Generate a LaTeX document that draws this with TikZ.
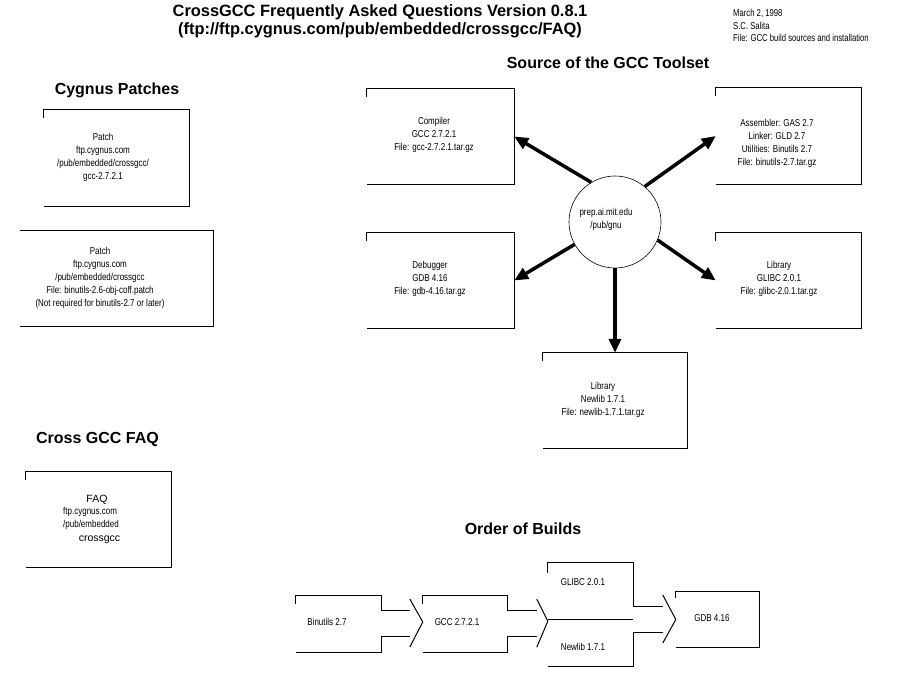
\documentclass[tikz,border=0pt]{standalone}
\usepackage{fontspec}
\setmainfont{Liberation Sans}
\newfontfamily\narrowf{Liberation Sans}[FakeStretch=0.8]
\newfontfamily\narrowi{Liberation Sans}[FakeStretch=0.77]
\usetikzlibrary{arrows.meta,fit,calc}
\begin{document}
\begin{tikzpicture}[x=1pt,y=-1pt,
  head/.style={font=\fontsize{16}{19}\selectfont\bfseries, anchor=base, inner sep=0pt},
  ttl/.style={font=\fontsize{16.4}{19}\selectfont\bfseries, anchor=base, inner sep=0pt},
  txt/.style={font=\narrowf\fontsize{10}{13}\selectfont, align=center, inner sep=0pt},
  reg/.style={font=\fontsize{10.5}{12}\selectfont, inner sep=0pt, anchor=base},
  area/.style={inner sep=0pt, draw=none},
  boxline/.style={line width=1pt},
  bigarrow/.style={line width=3.5pt, -{Triangle[length=14pt,width=12pt]}},
]
\fill[white] (0,0) rectangle (923,676);
\useasboundingbox (0,0) rectangle (923,676);

% titles
\node[ttl] (t1) at (380,17) {CrossGCC Frequently Asked Questions Version 0.8.1};
\node[ttl] (t2) at (380,35) {(ftp://ftp.cygnus.com/pub/embedded/crossgcc/FAQ)};
\node[txt, font=\narrowi\fontsize{10}{12.4}\selectfont, align=left, anchor=north west] (info) at (733,9.5) {March 2, 1998\\S.C. Salita\\File: GCC build sources and installation};

% headings
\node[head] (hcp) at (117,94.5) {Cygnus Patches};
\node[head] (hsrc) at (608,69) {Source of the GCC Toolset};
\node[head] (hfaq) at (97.5,443) {Cross GCC FAQ};
\node[head] (hord) at (523,534) {Order of Builds};

% box areas
\node[area, fit={(44,110) (189,206)}] (p1) {};
\node[area, fit={(20,231) (213,326)}] (p2) {};
\node[area, fit={(26,472) (171,567)}] (faq) {};
\node[area, fit={(367,89) (514,184)}] (comp) {};
\node[area, fit={(716,88) (861,184)}] (asm) {};
\node[area, fit={(367,233) (514,328)}] (dbg) {};
\node[area, fit={(716,233) (861,328)}] (glibc) {};
\node[area, fit={(543,353) (687,448)}] (newlib) {};

\foreach \n in {p1,faq,comp,asm,dbg,glibc,newlib}
  \draw[boxline] ([yshift=-8pt]\n.north west) -- (\n.north west) -- (\n.north east) -- (\n.south east) -- (\n.south west);
\draw[boxline] (p2.north west) -- (p2.north east) -- (p2.south east) -- (p2.south west);

% box texts
\node[txt] (p1t) at (103,157) {Patch\\ftp.cygnus.com\\/pub/embedded/crossgcc/\\gcc-2.7.2.1};
\node[txt] (p2t) at (100,278) {Patch\\ftp.cygnus.com\\/pub/embedded/crossgcc\\File: binutils-2.6-obj-coff.patch\\(Not required for binutils-2.7 or later)};
\node[reg] (faq1) at (97,502) {FAQ};
\node[txt, anchor=base west] (faq2) at (63,514) {ftp.cygnus.com};
\node[txt, anchor=base west] (faq3) at (63,527) {/pub/embedded};
\node[reg] (faq4) at (99.5,541) {crossgcc};

\node[txt] (compt) at (434,135) {Compiler\\GCC 2.7.2.1\\File: gcc-2.7.2.1.tar.gz};
\node[txt] (asmt) at (777,143.5) {Assembler: GAS 2.7\\Linker: GLD 2.7\\Utilities: Binutils 2.7\\File: binutils-2.7.tar.gz};
\node[txt] (dbgt) at (430,278.5) {Debugger\\GDB 4.16\\File: gdb-4.16.tar.gz};
\node[txt] (glibct) at (779,279) {Library\\GLIBC 2.0.1\\File: glibc-2.0.1.tar.gz};
\node[txt] (newlibt) at (603,400) {Library\\Newlib 1.7.1\\File: newlib-1.7.1.tar.gz};

% source circle
\node[circle, draw, line width=0.6pt, minimum size=92pt, inner sep=0pt] (circ) at (615,222) {};
\node[txt] (circt) at (606,219) {prep.ai.mit.edu\\/pub/gnu};

\draw[bigarrow] (circ.121) -- (comp.east);
\draw[bigarrow] (circ.50) -- (asm.west);
\draw[bigarrow] (circ.209) -- (dbg.east);
\draw[bigarrow] (circ.-23) -- (glibc.west);
\draw[bigarrow] (circ.south) -- (newlib.north);

% order of builds
\node[area, fit={(296,596) (381,652)}] (bin) {};
\node[area, fit={(423,596) (507,652)}] (gccb) {};
\node[area, fit={(548,563) (633,619)}] (glb) {};
\node[area, fit={(548,619) (633,666)}] (nlb) {};
\node[area, fit={(676,592) (759,647)}] (gdb) {};

\draw[boxline] ([yshift=-8pt]bin.north west) -- (bin.north west) -- (bin.north east) -- ++(0,15) -- ++(29,0);
\draw[boxline] (bin.south west) -- (bin.south east) -- ++(0,-16) -- ++(29,0);
\draw[boxline] ($(gccb.west)+(-13,-25)$) -- ($(gccb.west)+(0,-2)$) -- ($(gccb.west)+(-13,23)$);

\draw[boxline] ([yshift=-8pt]gccb.north west) -- (gccb.north west) -- (gccb.north east) -- ++(0,15) -- ++(30,0);
\draw[boxline] (gccb.south west) -- (gccb.south east) -- ++(0,-16) -- ++(30,0);
\draw[boxline] ($(glb.south west)+(-11,-20)$) -- ($(glb.south west)+(0,2)$) -- ($(glb.south west)+(-11,28)$);

\draw[boxline] ([yshift=-10pt]glb.north west) -- (glb.north west) -- (glb.north east) -- ++(0,44) -- ++(30,0);
\draw[boxline] (glb.south west) -- (glb.south east);
\draw[boxline] (nlb.south west) -- (nlb.south east) -- ++(0,-34) -- ++(30,0);
\draw[boxline] ($(gdb.west)+(-13,-24.5)$) -- (gdb.west) -- ($(gdb.west)+(-13,23.5)$);
\draw[boxline] ([yshift=-6pt]gdb.north west) -- (gdb.north west) -- (gdb.north east) -- (gdb.south east) -- (gdb.south west);

\node[txt] (bint) at (327,622) {Binutils 2.7};
\node[txt] (gcct) at (457,622) {GCC 2.7.2.1};
\node[txt] (glbt) at (583,582) {GLIBC 2.0.1};
\node[txt] (nlbt) at (583,647) {Newlib 1.7.1};
\node[txt] (gdbt) at (712,618) {GDB 4.16};
\end{tikzpicture}
\end{document}
